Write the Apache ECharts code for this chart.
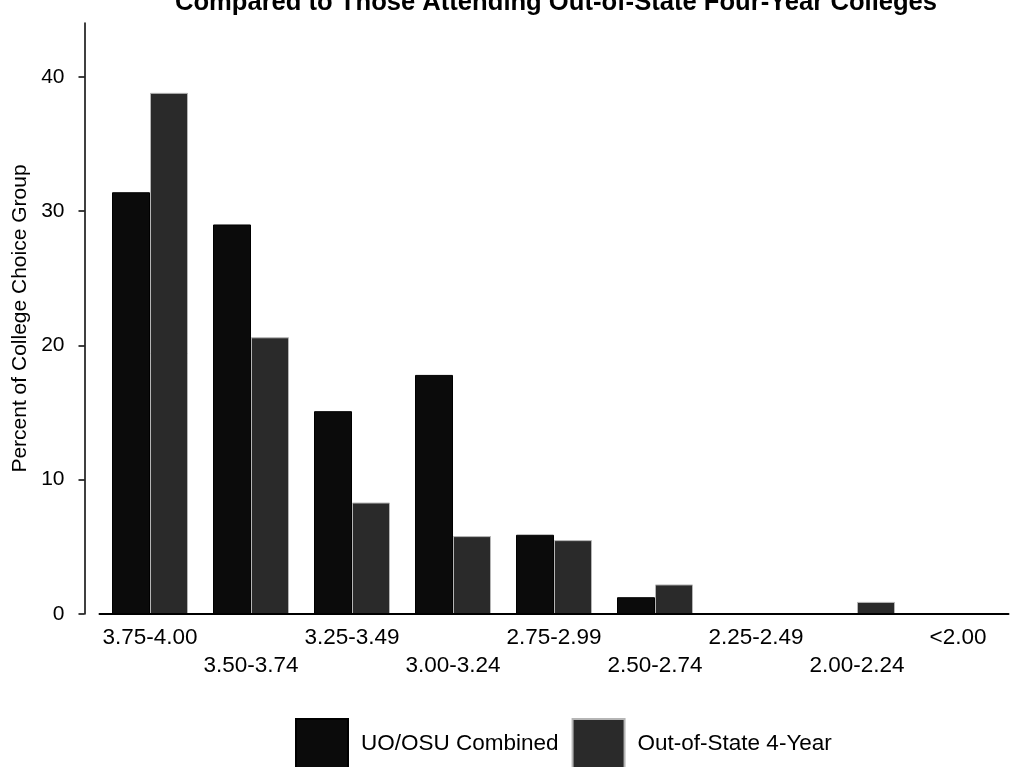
<!DOCTYPE html>
<html>
<head>
<meta charset="utf-8">
<script src="https://cdn.jsdelivr.net/npm/echarts@6/dist/echarts.min.js"></script>
<style>
html,body{margin:0;padding:0;background:#fff;}
#chart{width:1014px;height:767px;}
</style>
</head>
<body>
<div id="chart"></div>
<script>
const titleText = 'Compared to Those Attending Out-of-State Four-Year Colleges';
const categories = ['3.75-4.00','3.50-3.74','3.25-3.49','3.00-3.24','2.75-2.99','2.50-2.74','2.25-2.49','2.00-2.24','<2.00'];
const uoOsu = [31.4, 29.0, 15.1, 17.8, 5.9, 1.25, 0, 0, 0];
const outOfState = [38.8, 20.6, 8.3, 5.8, 5.5, 2.2, 0, 0.9, 0];
const yTicks = [0, 10, 20, 30, 40];
const seriesNames = ['UO/OSU Combined', 'Out-of-State 4-Year'];
const yName = 'Percent of College Choice Group';

const FONT = '"Liberation Sans", Arial, Helvetica, sans-serif';
const chart = echarts.init(document.getElementById('chart'), null, {renderer: 'canvas'});
chart.setOption({
  backgroundColor: '#ffffff',
  animation: false,
  textStyle: {fontFamily: FONT, color: '#000'},
  title: {
    text: titleText,
    left: 556, textAlign: 'center', top: -10, padding: 0,
    textStyle: {fontFamily: FONT, fontWeight: 'bold', fontSize: 25.6, color: '#000'}
  },
  legend: {
    data: seriesNames,
    left: 295, top: 718, padding: 0,
    itemWidth: 52, itemHeight: 50, itemGap: 13,
    icon: 'rect',
    textStyle: {fontFamily: FONT, fontSize: 22.5, color: '#000', padding: [0, 0, 0, 8]}
  },
  grid: {left: 99.5, right: 5.5, top: 23, bottom: 153, containLabel: false},
  xAxis: {
    type: 'category',
    data: categories,
    z: 3,
    axisLine: {show: true, lineStyle: {color: '#000', width: 2}},
    axisTick: {show: false},
    axisLabel: {
      interval: 0,
      fontFamily: FONT, fontSize: 22.5, color: '#000', margin: 10, lineHeight: 28,
      formatter: function (v, i) { return i % 2 === 1 ? '\n' + v : v; }
    }
  },
  yAxis: {
    type: 'value',
    min: 0, max: 44, interval: 10,
    offset: 15,
    name: yName,
    nameLocation: 'middle',
    nameGap: 51,
    nameTextStyle: {fontFamily: FONT, fontSize: 21, color: '#000'},
    splitLine: {show: false},
    axisLine: {show: true, lineStyle: {color: '#000', width: 1.5}},
    axisTick: {show: true, length: 6, lineStyle: {color: '#000', width: 1.5}, customValues: yTicks},
    axisLabel: {fontFamily: FONT, fontSize: 21, color: '#000', margin: 20, customValues: yTicks}
  },
  series: [
    {
      name: seriesNames[0], type: 'bar', data: uoOsu,
      barWidth: 38, barGap: '0%',
      itemStyle: {color: '#0b0b0b', borderColor: '#000', borderWidth: 1}
    },
    {
      name: seriesNames[1], type: 'bar', data: outOfState,
      barWidth: 38, barGap: '0%',
      itemStyle: {color: '#2a2a2a', borderColor: '#b5b5b5', borderWidth: 1}
    }
  ]
});
</script>
</body>
</html>
